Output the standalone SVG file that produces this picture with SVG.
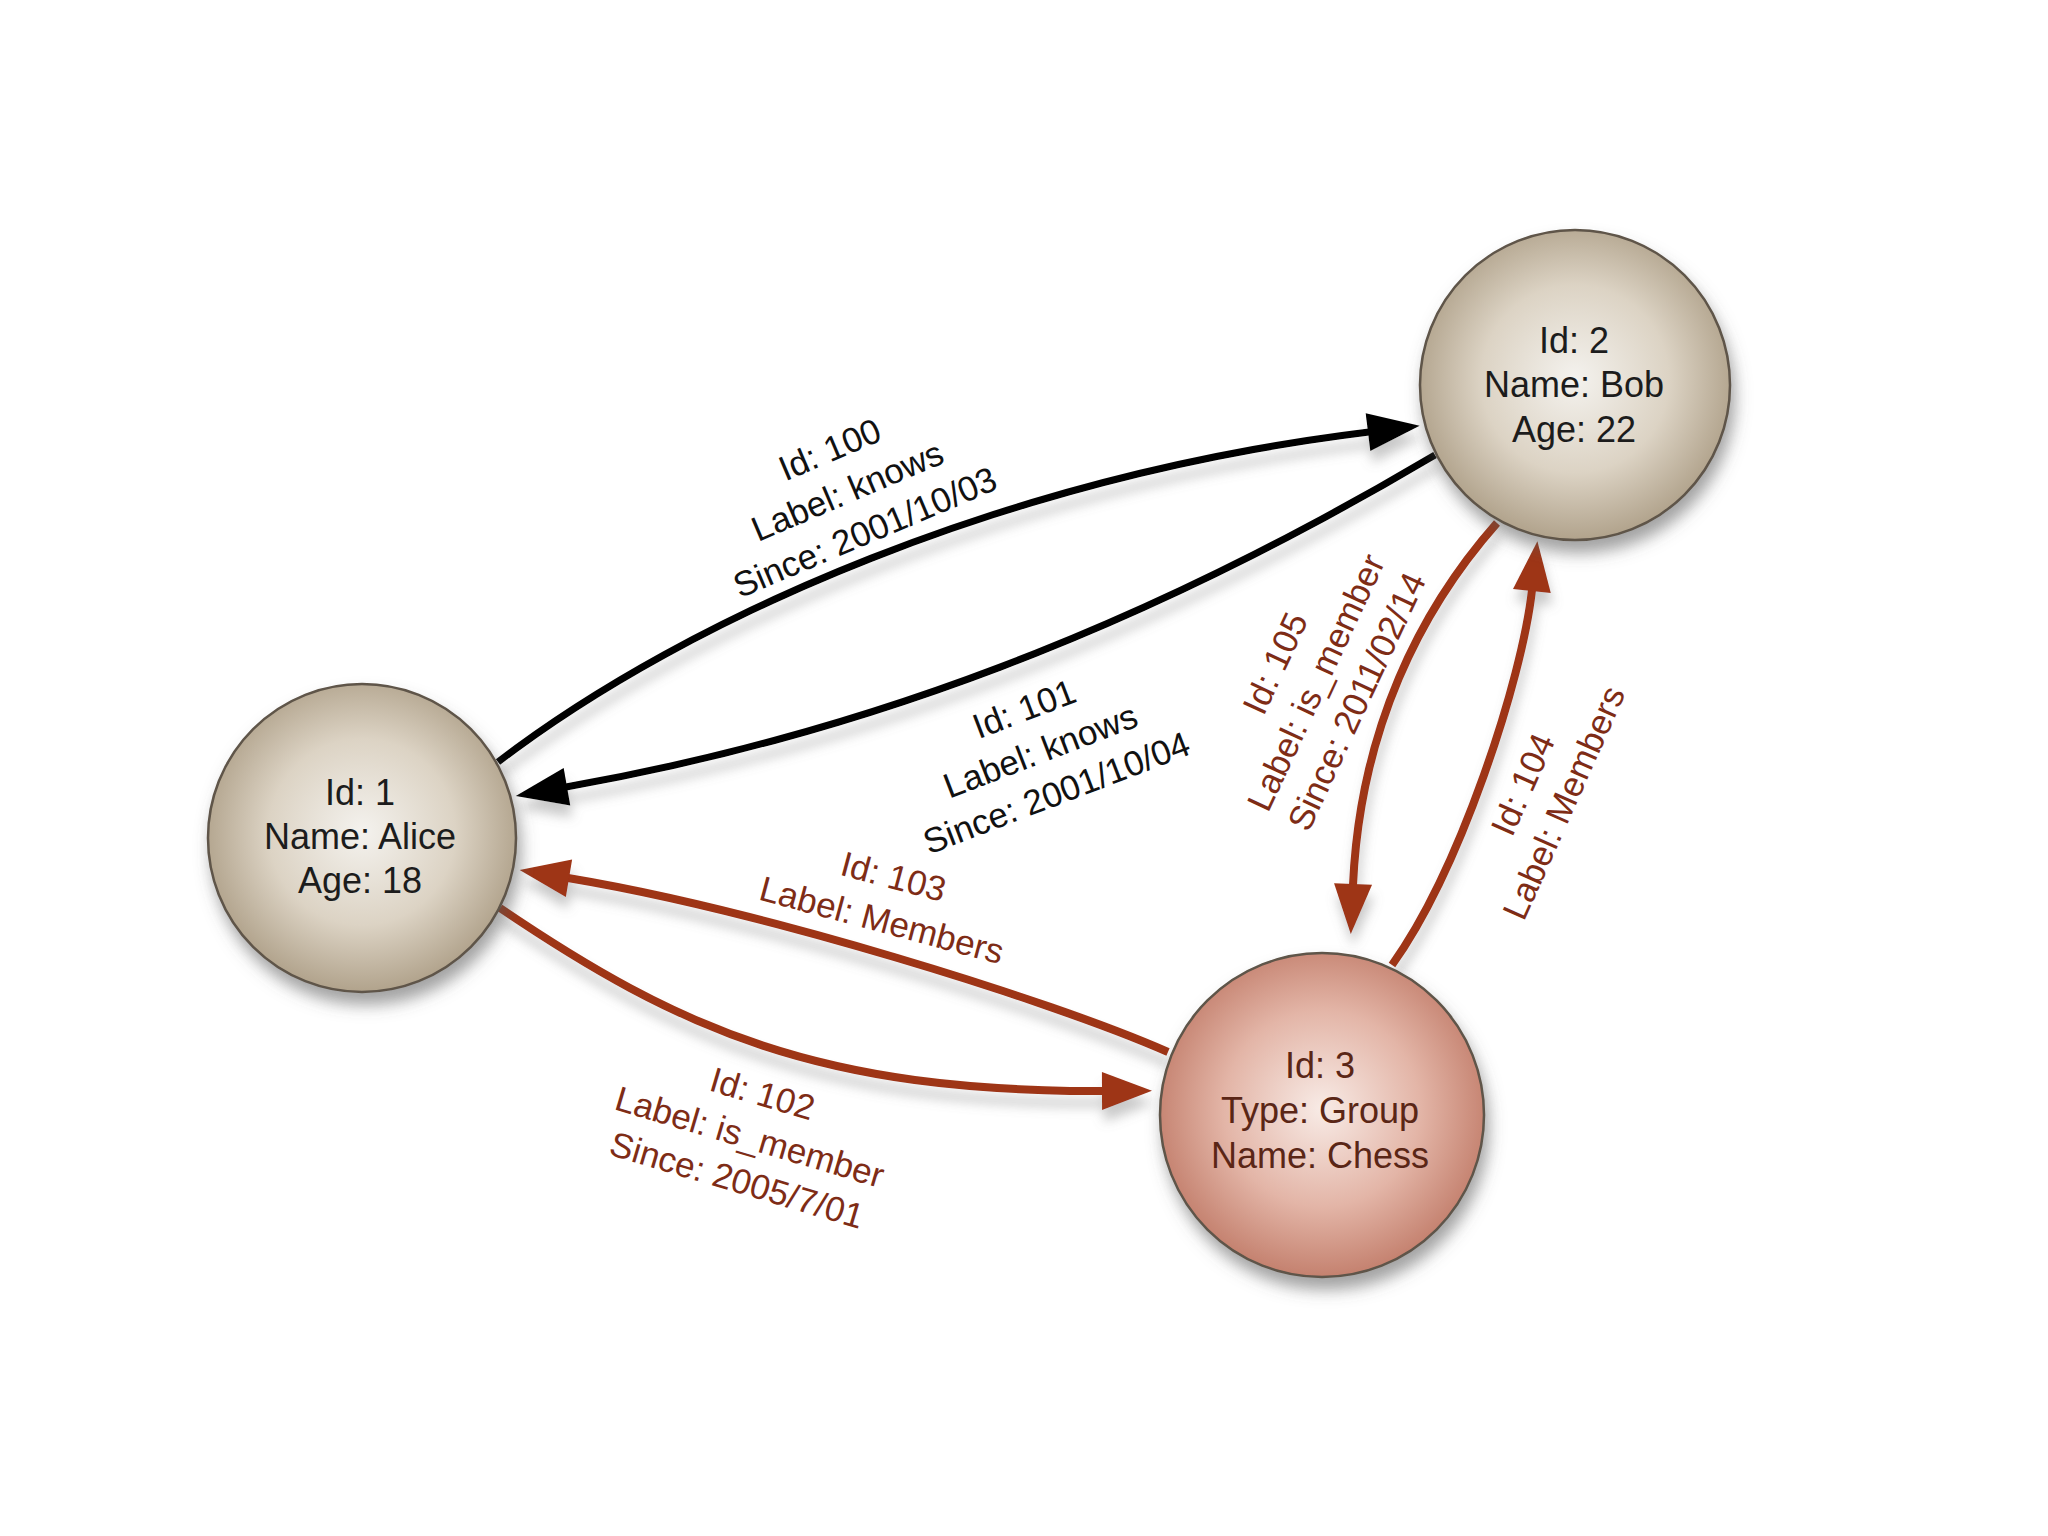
<svg xmlns="http://www.w3.org/2000/svg" width="2048" height="1536" viewBox="0 0 2048 1536">
<defs>
<style>
.nt{font-family:"Liberation Sans",Arial,Helvetica,sans-serif;font-size:36px;text-anchor:middle;fill:#1c1c1c}
.ct{fill:#5a2616}
.el{font-family:"Liberation Sans",Arial,Helvetica,sans-serif;font-size:35px;text-anchor:middle}
.blk{fill:#111}
.red{fill:#7e2c16}
.eb{fill:none;stroke:#000;stroke-width:7}
.er{fill:none;stroke:#9e3415;stroke-width:8}
.node{stroke:#5e5448;stroke-width:2.5}
</style>
<radialGradient id="gTan" cx="50%" cy="48%" r="55%">
<stop offset="0" stop-color="#f4f2ee"/>
<stop offset="0.55" stop-color="#dcd3c4"/>
<stop offset="1" stop-color="#ab9c84"/>
</radialGradient>
<radialGradient id="gRed" cx="50%" cy="48%" r="55%">
<stop offset="0" stop-color="#f8ebe6"/>
<stop offset="0.55" stop-color="#e3b5a7"/>
<stop offset="1" stop-color="#c07a67"/>
</radialGradient>
<filter id="sh" x="-30%" y="-30%" width="160%" height="170%">
<feDropShadow dx="4" dy="12" stdDeviation="8" flood-color="#555" flood-opacity="0.55"/>
</filter>
<filter id="esh" x="-20%" y="-40%" width="140%" height="180%">
<feDropShadow dx="2" dy="12" stdDeviation="6" flood-color="#777" flood-opacity="0.4"/>
</filter>
<marker id="ab" markerUnits="userSpaceOnUse" markerWidth="54" markerHeight="40" viewBox="0 0 54 40" refX="1" refY="20" orient="auto" overflow="visible">
<path d="M0,1 L52,20 L0,39 z" fill="#000"/>
</marker>
<marker id="ar" markerUnits="userSpaceOnUse" markerWidth="54" markerHeight="40" viewBox="0 0 54 40" refX="1" refY="20" orient="auto" overflow="visible">
<path d="M0,1 L50,20 L0,39 z" fill="#9e3415"/>
</marker>
</defs>
<rect width="2048" height="1536" fill="#ffffff"/>

<g id="connectors" filter="url(#esh)">
<path id="e100" class="eb" d="M498,762 C690,615 1010,476 1369,432" marker-end="url(#ab)"/>
<path id="e101" class="eb" d="M1435,455 C1140,630 860,735 566,787" marker-end="url(#ab)"/>
<path id="e103" class="er" d="M1168,1052 C1050,1000 760,910 568,878" marker-end="url(#ar)"/>
<path id="e102" class="er" d="M500,908 C680,1030 820,1092 1103,1091" marker-end="url(#ar)"/>
<path id="e105" class="er" d="M1497,523 C1420,610 1360,730 1353,885" marker-end="url(#ar)"/>
<path id="e104" class="er" d="M1392,965 C1460,870 1522,680 1532,590" marker-end="url(#ar)"/>
</g>

<g id="edge-labels">
<g id="l100" transform="translate(847,490) rotate(-23)">
<text class="el blk" x="0" y="-32">Id: 100</text>
<text class="el blk" x="0" y="13">Label: knows</text>
<text class="el blk" x="0" y="58">Since: 2001/10/03</text>
</g>
<g id="l101" transform="translate(1040,750) rotate(-21)">
<text class="el blk" x="0" y="-32">Id: 101</text>
<text class="el blk" x="0" y="13">Label: knows</text>
<text class="el blk" x="0" y="58">Since: 2001/10/04</text>
</g>
<g id="l103" transform="translate(888,897) rotate(15)">
<text class="el red" x="0" y="-9">Id: 103</text>
<text class="el red" x="0" y="36">Label: Members</text>
</g>
<g id="l102" transform="translate(750,1136) rotate(16.5)">
<text class="el red" x="0" y="-32">Id: 102</text>
<text class="el red" x="0" y="13">Label: is_member</text>
<text class="el red" x="0" y="58">Since: 2005/7/01</text>
</g>
<g id="l105" transform="translate(1315,682) rotate(-65)">
<text class="el red" x="0" y="-32">Id: 105</text>
<text class="el red" x="0" y="13">Label: is_member</text>
<text class="el red" x="0" y="58">Since: 2011/02/14</text>
</g>
<g id="l104" transform="translate(1542,793) rotate(-66)">
<text class="el red" x="0" y="-9">Id: 104</text>
<text class="el red" x="0" y="36">Label: Members</text>
</g>
</g>

<g id="node1">
<circle class="node" cx="362" cy="838" r="154" fill="url(#gTan)" filter="url(#sh)"/>
<text class="nt" x="360" y="805">Id: 1</text>
<text class="nt" x="360" y="849">Name: Alice</text>
<text class="nt" x="360" y="893">Age: 18</text>
</g>

<g id="node2">
<circle class="node" cx="1575" cy="385" r="155" fill="url(#gTan)" filter="url(#sh)"/>
<text class="nt" x="1574" y="353">Id: 2</text>
<text class="nt" x="1574" y="397">Name: Bob</text>
<text class="nt" x="1574" y="442">Age: 22</text>
</g>

<g id="node3">
<circle class="node" cx="1322" cy="1115" r="162" fill="url(#gRed)" filter="url(#sh)" stroke="#6a3a2e"/>
<text class="nt ct" x="1320" y="1078">Id: 3</text>
<text class="nt ct" x="1320" y="1123">Type: Group</text>
<text class="nt ct" x="1320" y="1168">Name: Chess</text>
</g>
</svg>
